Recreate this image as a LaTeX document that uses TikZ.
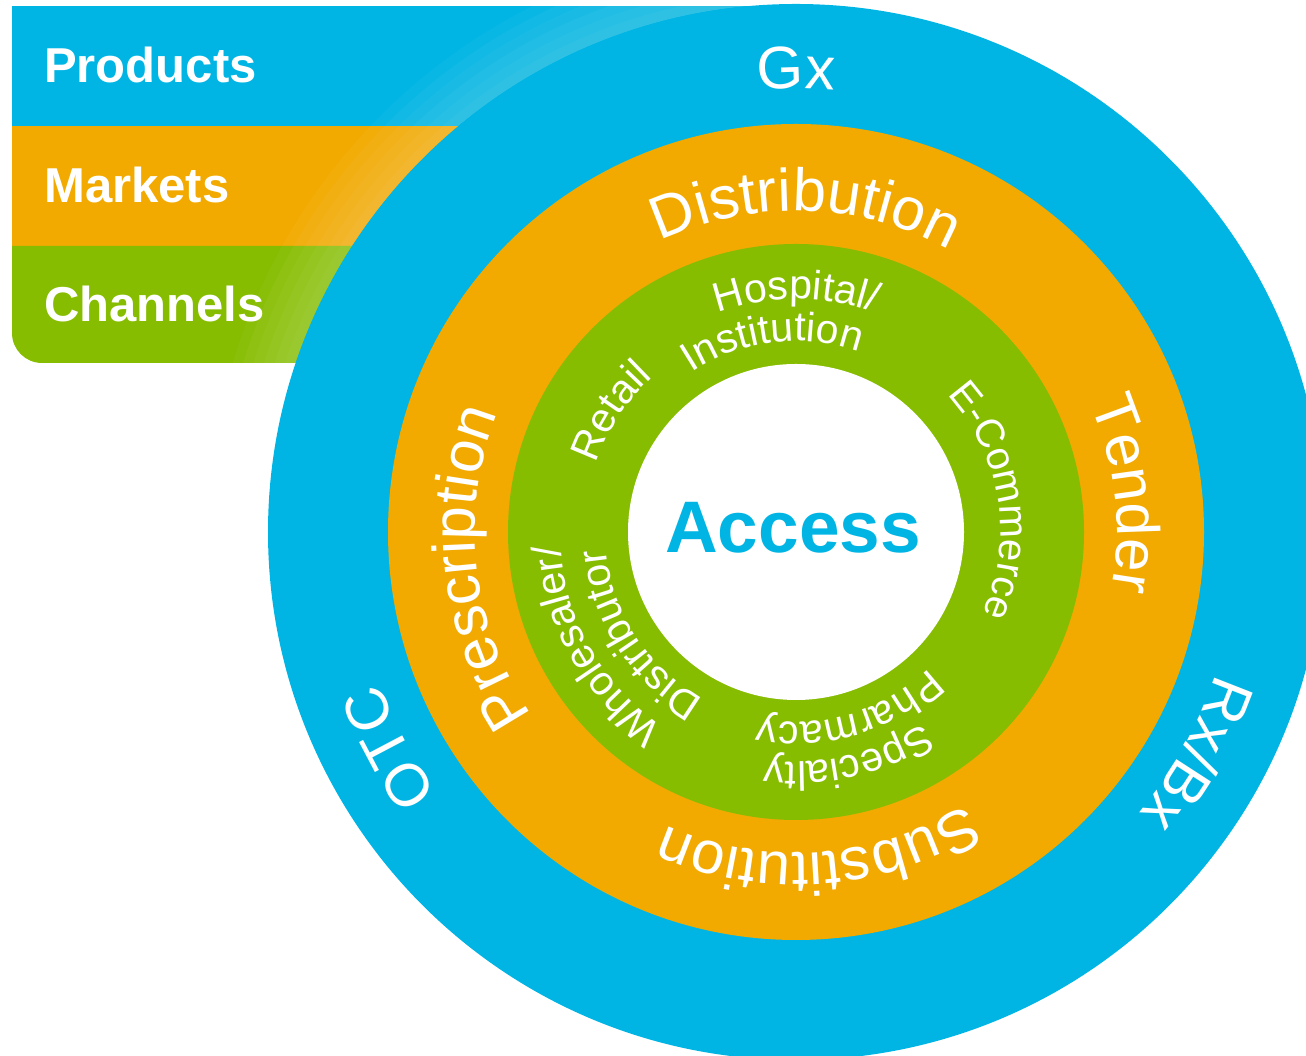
\documentclass[tikz,border=0pt]{standalone}
\usepackage{fontspec}
\setmainfont{Liberation Sans}
\usetikzlibrary{decorations.text}
\definecolor{accblue}{RGB}{0,181,228}
\definecolor{accorange}{RGB}{242,170,0}
\definecolor{accgreen}{RGB}{134,189,0}
% white text set clockwise round the hub: radius, centre angle, font size, text
\newcommand{\ringlabel}[4]{\path[decorate, decoration={text along path, text align=center, text color=white, text={|\fontsize{#3}{#3}\selectfont|#4}}] (hub) ++(#2+70:#1pt) arc[start angle=#2+70, end angle=#2-70, radius=#1pt];}
\tikzset{bandlabel/.style={anchor=base west, text=white, inner sep=0pt, font=\bfseries\fontsize{49}{49}\selectfont}}

\begin{document}
\begin{tikzpicture}[x=1pt, y=1pt]
\clip (0,0) rectangle (1306,1056);
\coordinate (hub) at (796,524);
\fill[accblue] (12,930) rectangle (796,1050);
\fill[accorange] (12,810) rectangle (796,930);
\fill[accgreen] (12,810) -- (12,723) arc[start angle=180, end angle=270, radius=30pt] -- (796,693) -- (796,810) -- cycle;
\begin{scope}
\clip (12,693) rectangle (796,1050);
\foreach \w in {10,20,...,60} \draw[white, opacity=0.035, line width=\w pt] (hub) circle[radius=528pt+\w pt/2];
\end{scope}
\node[bandlabel] (products) at (44,973) {Products};
\node[bandlabel] (markets) at (44,853) {Markets};
\node[bandlabel] (channels) at (44,734) {Channels};
\fill[accblue] (hub) circle[radius=528pt];
\fill[accorange] (hub) circle[radius=408pt];
\fill[accgreen] (hub) circle[radius=288pt];
\fill[white] (hub) circle[radius=168pt];
\node[text=accblue, font=\bfseries\fontsize{73}{73}\selectfont] (access) at (793,528) {Access};
\ringlabel{443}{90}{60}{Gx}
\ringlabel{443}{208}{60}{OTC}
\ringlabel{443}{-29}{60}{Rx/Bx}
\ringlabel{321}{88.3}{60}{Distribution}
\ringlabel{321}{6.5}{60}{Tender}
\ringlabel{321}{-86}{60}{Substitution}
\ringlabel{321}{186.5}{60}{Prescription}
\ringlabel{233}{90}{41}{Hospital/}
\ringlabel{191}{97}{41}{Institution}
\ringlabel{211}{147}{41}{Retail}
\ringlabel{204}{9.3}{40}{E-Commerce}
\ringlabel{230}{-77}{41}{Specialty}
\ringlabel{190}{-73.5}{41}{Pharmacy}
\ringlabel{236}{209.5}{41}{Wholesaler/}
\ringlabel{191}{213}{41}{Distributor}
\end{tikzpicture}
\end{document}
